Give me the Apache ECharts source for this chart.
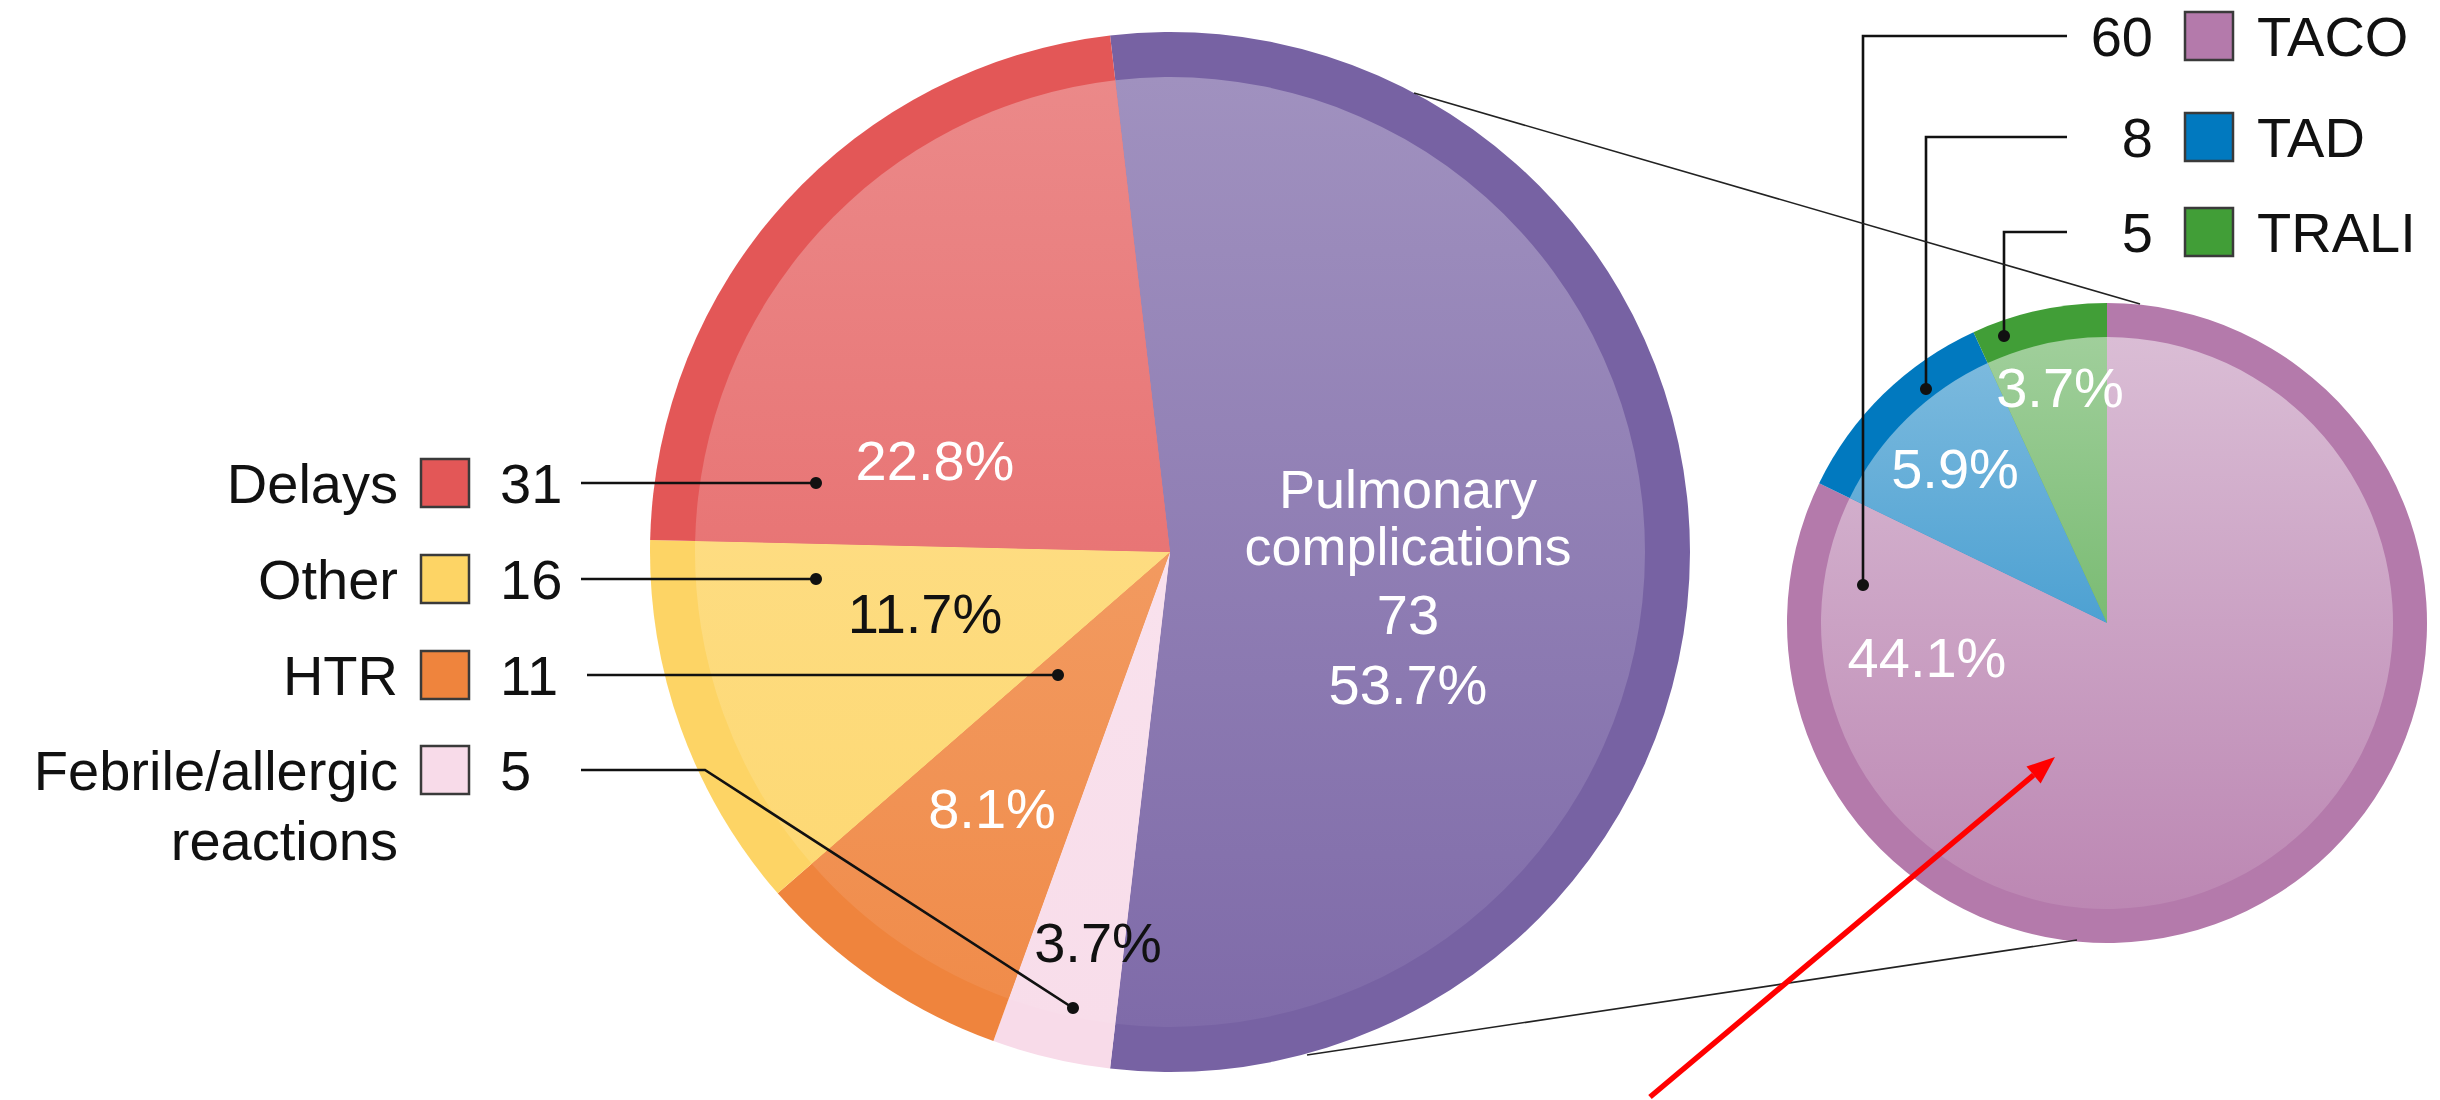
<!DOCTYPE html>
<html>
<head>
<meta charset="utf-8">
<script src="https://cdn.jsdelivr.net/npm/echarts@6/dist/echarts.min.js"></script>
<style>
html, body { margin: 0; padding: 0; background: #fff; }
#chart { width: 2440px; height: 1100px; }
</style>
</head>
<body>
<div id="chart"></div>
<script>
// main pie, clockwise starting just left of 12 o'clock
const mainNames = ['Pulmonary complications', 'Febrile/allergic reactions', 'HTR', 'Other', 'Delays'];
const mainValues = [73, 5, 11, 16, 31];
const mainPct = ['53.7%', '3.7%', '8.1%', '11.7%', '22.8%'];

// breakdown of pulmonary complications, clockwise from 12 o'clock
const subNames = ['TACO', 'TAD', 'TRALI'];
const subValues = [60, 8, 5];
const subPct = ['44.1%', '5.9%', '3.7%'];

const mainColors = ['#7762a3', '#f8dbe9', '#ef843d', '#fdd465', '#e35757'];
const subColors = ['#b47aab', '#0179bf', '#419e37'];

const FONT = '"Liberation Sans", Arial, Helvetica, sans-serif';
const FS = 56;
const total = mainValues.reduce((a, b) => a + b, 0);

// pulmonary slice sits symmetric about the vertical axis
const mainPie = { cx: 1170, cy: 552, r: 520, ri: 475, start: 90 + (mainValues[0] / total * 360 - 180) / 2, top: 0.30, bot: 0.06 };
const subPie = { cx: 2107, cy: 623, r: 320, ri: 286, start: 90, top: 0.50, bot: 0.10 };

function mix(hex, t) {
    const n = parseInt(hex.slice(1), 16);
    const r = (n >> 16) & 255, g = (n >> 8) & 255, b = n & 255;
    const f = c => Math.round(c + (255 - c) * t);
    return 'rgb(' + f(r) + ',' + f(g) + ',' + f(b) + ')';
}

function pieSeries(p, names, values, colors, inner) {
    return {
    type: 'pie',
    center: [p.cx, p.cy],
    radius: [0, inner ? p.ri : p.r],
    startAngle: p.start,
    clockwise: true,
    silent: true,
    animation: false,
    label: { show: false },
    labelLine: { show: false },
    emphasis: { disabled: true },
    data: names.map((n, i) => ({
    name: n,
    value: values[i],
    itemStyle: {
    borderWidth: 0,
    color: inner ? {
    type: 'linear', x: 0, y: p.cy - p.ri, x2: 0, y2: p.cy + p.ri, global: true,
    colorStops: [
    { offset: 0, color: mix(colors[i], p.top) },
    { offset: 1, color: mix(colors[i], p.bot) }
    ]
    } : colors[i]
    }
    }))
    };
}

const graphics = [];

function text(x, y, str, opt) {
    opt = opt || {};
    const align = opt.align || 'center';
    const valign = opt.valign || 'middle';
    graphics.push({
    type: 'text', z: 100, silent: true,
    style: {
    text: str, x: x, y: y,
    font: (opt.weight || 'normal') + ' ' + (opt.size || FS) + 'px ' + FONT,
    fill: opt.color || '#111',
    align: align, textAlign: align,
    verticalAlign: valign, textVerticalAlign: valign,
    lineHeight: opt.lineHeight
    }
    });
}

function polyline(points, width, color) {
    graphics.push({
    type: 'polyline', z: 100, silent: true,
    shape: { points: points },
    style: { stroke: color || '#111', lineWidth: width || 2.6, fill: null }
    });
}

function dot(x, y) {
    graphics.push({ type: 'circle', z: 101, silent: true, shape: { cx: x, cy: y, r: 6 }, style: { fill: '#111' } });
}

function swatch(x, y, color) {
    graphics.push({
    type: 'rect', z: 100, silent: true,
    shape: { x: x, y: y - 24, width: 48, height: 48 },
    style: { fill: color, stroke: '#3a3a3a', lineWidth: 2.5 }
    });
}

// left legend: Delays, Other, HTR, Febrile
const leftRows = [
    { i: 4, y: 483, lineX: 581, path: [[816, 483]] },
    { i: 3, y: 579, lineX: 581, path: [[816, 579]] },
    { i: 2, y: 675, lineX: 587, path: [[1058, 675]] },
    { i: 1, y: 770, lineX: 581, path: [[705, 770], [1073, 1008]] }
];
leftRows.forEach(row => {
    const name = mainNames[row.i] === 'Febrile/allergic reactions' ? 'Febrile/allergic\nreactions' : mainNames[row.i];
    if (name.indexOf('\n') >= 0) {
    text(398, row.y - 35, name, { align: 'right', valign: 'top', lineHeight: 70 });
    } else {
    text(398, row.y, name, { align: 'right' });
    }
    swatch(421, row.y, mainColors[row.i]);
    text(500, row.y, String(mainValues[row.i]), { align: 'left' });
    const pts = [[row.lineX, row.y]].concat(row.path);
    polyline(pts);
    const end = pts[pts.length - 1];
    dot(end[0], end[1]);
});

// right legend: TACO, TAD, TRALI
const rightRows = [
    { y: 36, vx: 1863, dotY: 585 },
    { y: 137, vx: 1926, dotY: 389 },
    { y: 232, vx: 2004, dotY: 336 }
];
rightRows.forEach((row, i) => {
    text(2153, row.y, String(subValues[i]), { align: 'right' });
    swatch(2185, row.y, subColors[i]);
    text(2257, row.y, subNames[i], { align: 'left' });
    polyline([[2067, row.y], [row.vx, row.y], [row.vx, row.dotY]]);
    dot(row.vx, row.dotY);
});

// percentage labels inside slices
const mainLabelPos = [null, [1098, 942], [992, 808], [925, 613], [935, 460]];
const mainLabelColor = [null, '#111', '#fff', '#111', '#fff'];
for (let i = 1; i < mainPct.length; i++) {
    text(mainLabelPos[i][0], mainLabelPos[i][1], mainPct[i], { color: mainLabelColor[i] });
}
const pulmWords = mainNames[0].split(' ');
text(1408, 489, pulmWords[0], { color: '#fff', size: 54 });
text(1408, 546, pulmWords[1], { color: '#fff', size: 54 });
text(1408, 614, String(mainValues[0]), { color: '#fff' });
text(1408, 684, mainPct[0], { color: '#fff' });

const subLabelPos = [[1927, 657], [1955, 468], [2060, 387]];
subPct.forEach((s, i) => text(subLabelPos[i][0], subLabelPos[i][1], s, { color: '#fff' }));

// connectors between the two pies
polyline([[1414, 93], [2140, 304]], 1.6, '#222');
polyline([[1307, 1055], [2077, 940]], 1.6, '#222');

// red arrow
const tail = [1650, 1097], tip = [2055, 757];
const ang = Math.atan2(tip[1] - tail[1], tip[0] - tail[0]);
const headLen = 28, headHalf = 11;
const base = [tip[0] - headLen * Math.cos(ang), tip[1] - headLen * Math.sin(ang)];
polyline([tail, base], 5.5, '#ff0000');
graphics.push({
    type: 'polygon', z: 102, silent: true,
    shape: { points: [
    tip,
    [base[0] + headHalf * Math.sin(ang), base[1] - headHalf * Math.cos(ang)],
    [base[0] - headHalf * Math.sin(ang), base[1] + headHalf * Math.cos(ang)]
    ] },
    style: { fill: '#ff0000' }
});

const chart = echarts.init(document.getElementById('chart'), null, { renderer: 'svg' });
chart.setOption({
    animation: false,
    backgroundColor: '#ffffff',
    series: [
    pieSeries(mainPie, mainNames, mainValues, mainColors, false),
    pieSeries(mainPie, mainNames, mainValues, mainColors, true),
    pieSeries(subPie, subNames, subValues, subColors, false),
    pieSeries(subPie, subNames, subValues, subColors, true)
    ],
    graphic: graphics
});
</script>
</body>
</html>
